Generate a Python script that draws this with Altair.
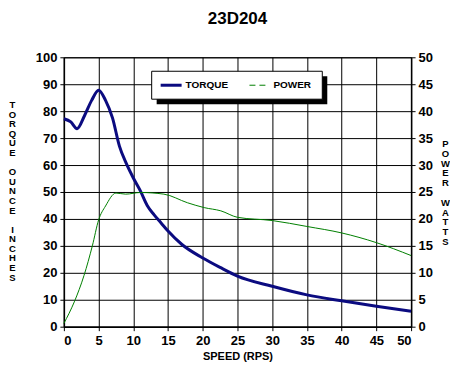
import altair as alt
import pandas as pd

# Torque curve (oz-in) vs speed (RPS)
torque_speed = [0, 1, 1.9, 3, 4, 5, 6, 7, 8, 9, 10, 11, 12, 13, 14, 15, 17, 20, 22.5, 25, 30, 35, 40, 45, 50]
torque_vals = [77.2, 76, 73.5, 78.5, 84, 87.8, 84, 77.5, 67, 60.5, 55.2, 50.5, 45, 41.5, 38.5, 35.5, 30.5, 25.5, 22, 18.8, 15, 11.8, 9.6, 7.6, 5.7]

# Power curve (watts) vs speed (RPS)
power_speed = [0, 1.5, 2.9, 4.1, 5, 6, 7.5, 8.9, 11, 14.4, 17.8, 20.2, 22.6, 25, 30, 35, 40, 45, 50]
power_vals = [0.6, 4.6, 9.5, 15, 19.8, 22.4, 24.8, 24.6, 24.9, 24.6, 23, 22.1, 21.5, 20.3, 19.7, 18.6, 17.4, 15.6, 13.2]

x_ticks = [0, 5, 10, 15, 20, 25, 30, 35, 40, 45, 50]
torque_ticks = list(range(0, 101, 10))
power_ticks = list(range(0, 51, 5))

left_words = ["TORQUE", "OUNCE", "INCHES"]
right_words = ["POWER", "WATTS"]

W, H = 348, 270
FONT = "Liberation Sans"

tdf = pd.DataFrame({"speed": torque_speed, "torque": torque_vals})
pdf = pd.DataFrame({"speed": power_speed, "power": power_vals})
one = pd.DataFrame({"k": [0]})

x_axis = alt.Axis(values=x_ticks, title="SPEED (RPS)", titleFontSize=11,
                  titlePadding=3, labelFontSize=13, labelPadding=4, labelOverlap=False)
x_scale = alt.Scale(domain=[0, 50], nice=False)

torque = alt.Chart(tdf).mark_line(color="#0b0b80", strokeWidth=3, interpolate="monotone").encode(
    x=alt.X("speed:Q", scale=x_scale, axis=x_axis),
    y=alt.Y("torque:Q", scale=alt.Scale(domain=[0, 100], nice=False),
            axis=alt.Axis(values=torque_ticks, orient="left", title=None,
                          labelFontSize=13, labelPadding=3, grid=True, labelOverlap=False))
)

power = alt.Chart(pdf).mark_line(color="#008000", strokeWidth=1, interpolate="monotone").encode(
    x=alt.X("speed:Q", scale=x_scale, axis=x_axis),
    y=alt.Y("power:Q", scale=alt.Scale(domain=[0, 50], nice=False),
            axis=alt.Axis(values=power_ticks, orient="right", title=None,
                          labelFontSize=13, labelPadding=3, grid=False, labelOverlap=False))
)


def stacked(word, x, y, lh):
    return alt.Chart(one).mark_text(text=list(word), align="center", baseline="middle", font=FONT,
                                    fontWeight="bold", fontSize=9.5, lineHeight=lh).encode(
        x=alt.value(x), y=alt.value(y))


# stacked vertical axis titles (one text block per word)
LH_L, LH_R = 9.6, 9.8
titles = [
    stacked(left_words[0], -51.5, 48, LH_L),
    stacked(left_words[1], -51.5, 48 + 7 * LH_L, LH_L),
    stacked(left_words[2], -51.5, 48 + 13 * LH_L, LH_L),
    stacked(right_words[0], W + 34.5, 87, LH_R),
    stacked(right_words[1], W + 34.5, 87 + 6 * LH_R, LH_R),
]

# legend drawn as decoration
shadow = alt.Chart(one).mark_rect(color="black").encode(
    x=alt.value(93), x2=alt.value(264), y=alt.value(19), y2=alt.value(47))
box = alt.Chart(one).mark_rect(fill="white", stroke="black", strokeWidth=1).encode(
    x=alt.value(88), x2=alt.value(259), y=alt.value(14), y2=alt.value(42))
leg_t = alt.Chart(one).mark_rule(color="#0b0b80", strokeWidth=3).encode(
    x=alt.value(97), x2=alt.value(118), y=alt.value(28))
leg_p = alt.Chart(one).mark_rule(color="#008000", strokeWidth=1, strokeDash=[6, 4]).encode(
    x=alt.value(186), x2=alt.value(206), y=alt.value(28))
txt_t = alt.Chart(one).mark_text(text="TORQUE", align="left", baseline="middle", font=FONT,
                                 fontWeight="bold", fontSize=10).encode(
    x=alt.value(122), y=alt.value(28))
txt_p = alt.Chart(one).mark_text(text="POWER", align="left", baseline="middle", font=FONT,
                                 fontWeight="bold", fontSize=10).encode(
    x=alt.value(210), y=alt.value(28))

chart = alt.layer(torque, power, *titles, shadow, box, leg_t, leg_p, txt_t, txt_p).resolve_scale(
    y="independent"
).properties(
    width=W, height=H,
    title=alt.TitleParams("23D204", fontSize=17, font=FONT, fontWeight="bold", anchor="middle", offset=23),
    padding={"left": 0, "top": 2, "right": 0, "bottom": 0},
).configure_view(stroke="black", strokeWidth=1).configure_axis(
    labelFont=FONT, titleFont=FONT, labelFontWeight="bold", titleFontWeight="bold",
    labelColor="black", titleColor="black", domainColor="black", tickColor="black",
    gridColor="black", gridOpacity=1, gridWidth=1, tickSize=4, domainWidth=1.5
)

chart.save("out.html", embed_options={"renderer": "svg", "actions": False})
